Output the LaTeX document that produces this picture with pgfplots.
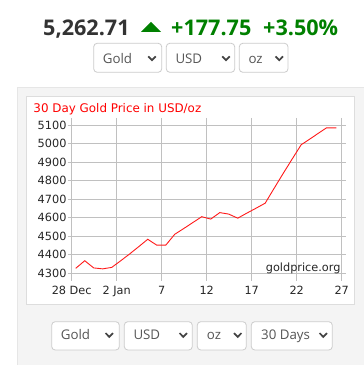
\documentclass[border=0pt]{standalone}
\usepackage{pgfplots}
\pgfplotsset{compat=1.18}
\usepackage{fontspec}
\setmainfont{Open Sans}
\newfontfamily\chartfont{DejaVu Sans}
\definecolor{gridgray}{HTML}{C0C0C0}
\definecolor{panelgray}{HTML}{F4F4F4}
\definecolor{panelborder}{HTML}{E6E6E6}
\definecolor{boxborder}{HTML}{DDDDDD}
\definecolor{selborder}{HTML}{CCCCCC}
\definecolor{seltext}{HTML}{555555}
\definecolor{chev}{HTML}{444444}
\definecolor{headdark}{HTML}{333333}
\definecolor{headgreen}{HTML}{008000}
\definecolor{linered}{HTML}{FF1A1A}
\pgfplotstableread{
d v
0.45 4327
1.45 4368
2.45 4329
3.45 4324
4.45 4332
5.45 4368
6.45 4405
7.45 4444
8.45 4484
9.45 4452
10.45 4452
11.45 4511
12.45 4542
13.45 4574
14.45 4606
15.45 4593
16.45 4628
17.45 4620
18.45 4598
19.45 4625
20.45 4651
21.5 4679
22.5 4760
23.5 4840
24.5 4918
25.5 4995
26.5 5027
27.5 5060
28.3 5086
29.4 5086
}\gold
\newcommand\selbox[5]{% x1 x2 y1 y2 label
  \filldraw[fill=white,draw=selborder,line width=0.8pt,rounded corners=3.5pt] (#1,#3) rectangle (#2,#4);
}
\newcommand\chevron[2]{%
  \draw[chev,line width=1.7pt] (#1-3.7,#2+1.9) -- (#1,#2-1.9) -- (#1+3.7,#2+1.9);
}
\begin{document}
\begin{tikzpicture}[x=1pt,y=1pt]
\useasboundingbox (0,0) rectangle (364,365);
\clip (0,0) rectangle (364,365);
\fill[white] (0,0) rectangle (364,365);
% header
\node[anchor=base west,inner sep=0pt,text=headdark,font=\fontsize{21.6}{24}\selectfont\bfseries] at (43,329) {5,262.71};
\fill[headgreen] (141,333) -- (161,333) -- (151,343) -- cycle;
\node[anchor=base west,inner sep=0pt,text=headgreen,font=\fontsize{21.6}{24}\selectfont\bfseries] at (171,329) {+177.75};
\node[anchor=base west,inner sep=0pt,text=headgreen,font=\fontsize{21.6}{24}\selectfont\bfseries] at (263,329) {+3.50\%};
% top selectors
\selbox{93.7}{161.7}{292.7}{321.7}{}
\selbox{166.3}{234.7}{292.7}{321.7}{}
\selbox{239.3}{288}{292.7}{321.7}{}
\node[anchor=base west,inner sep=0pt,text=seltext,font=\fontsize{13.3}{15}\selectfont] at (102.7,301.7) {Gold};
\node[anchor=base west,inner sep=0pt,text=seltext,font=\fontsize{13.3}{15}\selectfont] at (175.3,301.7) {USD};
\node[anchor=base west,inner sep=0pt,text=seltext,font=\fontsize{13.3}{15}\selectfont] at (248.3,301.7) {oz};
\chevron{152}{306.7}
\chevron{226}{306.7}
\chevron{279.3}{306.7}
% panel
\filldraw[fill=panelgray,draw=panelborder,line width=0.8pt] (17.3,-5) rectangle (375,277.7);
\filldraw[fill=white,draw=boxborder,line width=0.8pt] (26.7,60.7) rectangle (354.7,268.3);
\node[anchor=base west,inner sep=0pt,text=red,font=\chartfont\fontsize{11.9}{14}\selectfont] at (33.3,252.3) {30 Day Gold Price in USD/oz};
\begin{axis}[
  at={(71.7pt,91.7pt)}, anchor=south west,
  scale only axis, width=270pt, height=148pt,
  xmin=0, xmax=30, ymin=4300, ymax=5100,
  xtick={0,5,...,30},
  xticklabels={28 Dec,2 Jan,7,12,17,22,27},
  ytick={4300,4400,4500,4600,4700,4800,4900,5000,5100},
  yticklabels={4300,4400,4500,4600,4700,4800,4900,5000,5100},
  grid=major,
  major grid style={gridgray,line width=0.8pt},
  axis line style={gridgray,line width=0.8pt},
  tick align=outside,
  major tick length=4pt,
  xtick style={gridgray,line width=0.8pt,/pgfplots/major tick length=7.5pt},
  ytick style={gridgray,line width=0.8pt},
  tick label style={font=\chartfont\fontsize{11.3}{13}\selectfont,text=black!85},
  yticklabel style={inner sep=1pt},
  xticklabel style={inner sep=0pt,yshift=-9pt},
  clip=false,
]
\addplot[linered,line width=0.9pt] table[x=d,y=v] {\gold};
\end{axis}
\node[anchor=base east,inner sep=0pt,text=black!85,font=\chartfont\fontsize{11.3}{13}\selectfont] at (340.7,93.3) {goldprice.org};
% bottom selectors
\selbox{51.7}{119.3}{15}{43.3}{}
\selbox{124.3}{192.3}{15}{43.3}{}
\selbox{197.3}{246.3}{15}{43.3}{}
\selbox{251.3}{332.3}{15}{43.3}{}
\node[anchor=base west,inner sep=0pt,text=seltext,font=\fontsize{13.3}{15}\selectfont] at (60.7,25) {Gold};
\node[anchor=base west,inner sep=0pt,text=seltext,font=\fontsize{13.3}{15}\selectfont] at (133.3,25) {USD};
\node[anchor=base west,inner sep=0pt,text=seltext,font=\fontsize{13.3}{15}\selectfont] at (206.7,25) {oz};
\node[anchor=base west,inner sep=0pt,text=seltext,font=\fontsize{13.3}{15}\selectfont] at (261,25) {30 Days};
\chevron{109.3}{30}
\chevron{183.3}{30}
\chevron{237.7}{30}
\chevron{323.3}{30}
\end{tikzpicture}
\end{document}
